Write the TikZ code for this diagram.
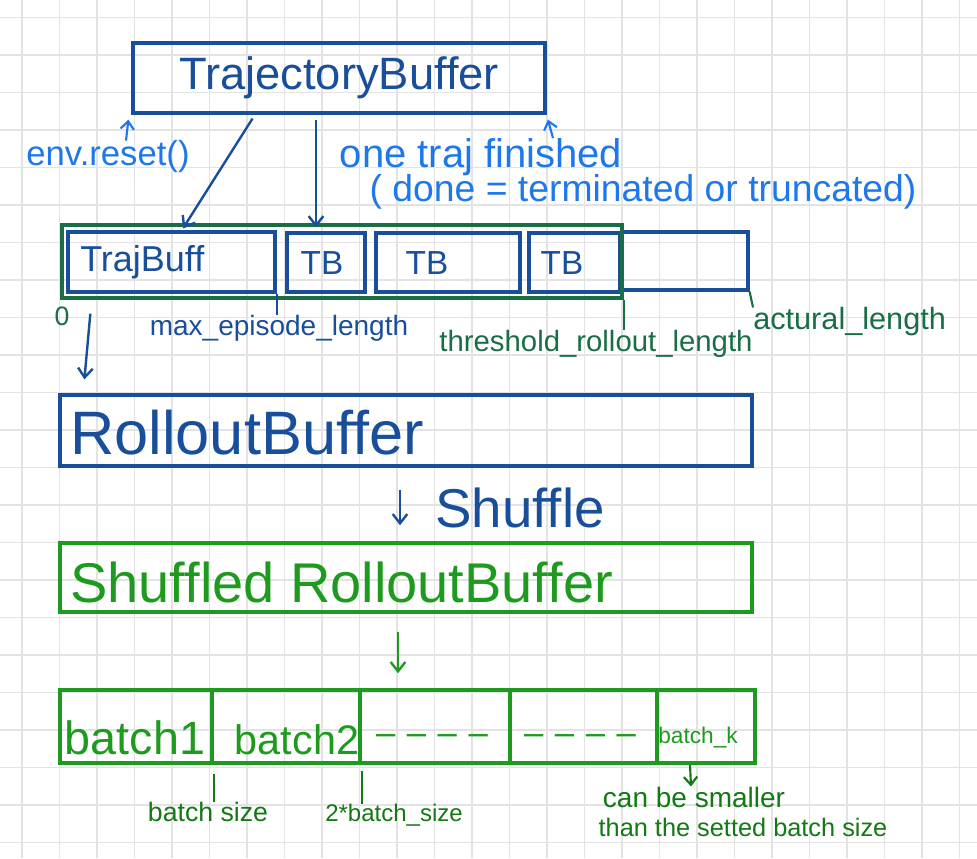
\documentclass[tikz,border=0pt]{standalone}
\usepackage{fontspec}
\setmainfont{Liberation Sans}
\usetikzlibrary{arrows.meta,calc}
\definecolor{blueD}{RGB}{25,78,155}
\definecolor{blueL}{RGB}{30,120,235}
\definecolor{greenD}{RGB}{25,110,70}
\definecolor{greenB}{RGB}{30,155,30}
\definecolor{greenT}{RGB}{20,120,20}
\newcommand{\fsz}[1]{\fontsize{#1}{#1}\selectfont}
\begin{document}
\begin{tikzpicture}[x=0.75pt,y=-0.75pt,
  gridline/.style={draw=black!11, line width=0.8pt},
  bbox/.style={draw=blueD, line width=2.4pt, inner sep=0pt, rectangle},
  gbox/.style={draw=greenB, line width=2.6pt, inner sep=0pt, rectangle},
  txt/.style={inner sep=0pt},
  arr/.style={line width=1.8pt, -{Straight Barb[length=7pt,width=11pt]}},
  sarr/.style={line width=1.6pt, -{Straight Barb[length=6pt,width=10pt]}},
  tick/.style={line width=1.6pt}]
\useasboundingbox (0,0) rectangle (977,858);
\fill[white] (0,0) rectangle (977,858);
% grid
\foreach \k in {0,...,25} {\draw[gridline] (22+37.5*\k,0) -- (22+37.5*\k,858);}
\foreach \k in {0,...,22} {\draw[gridline] (0,17.5+37.5*\k) -- (977,17.5+37.5*\k);}

% TrajectoryBuffer
\node[bbox, minimum width=309pt, minimum height=52.5pt, text=blueD, font=\fsz{34}] (tb) at (339,78) {TrajectoryBuffer};

% segment boxes
\node[bbox, minimum width=155.25pt, minimum height=45pt] (trajbuff) at (171.5,262) {};
\node[bbox, minimum width=58.5pt, minimum height=44.25pt] (tb1) at (326,262.5) {};
\node[bbox, minimum width=108pt, minimum height=44.25pt] (tb2) at (448,262.5) {};
\node[bbox, minimum width=68.25pt, minimum height=44.25pt] (tb3) at (574.5,262.5) {};
\node[bbox, minimum width=94.5pt, minimum height=43.5pt] (rest) at (685,261) {};
\node[draw=greenD, line width=2.5pt, inner sep=0pt, minimum width=420pt, minimum height=54.75pt] (outer) at (342,261.5) {};

\node[txt, text=blueD, font=\fsz{27}, anchor=west] (ltrajbuff) at (80,262) {TrajBuff};
\node[txt, text=blueD, font=\fsz{25}] (ltb1) at (322,263) {TB};
\node[txt, text=blueD, font=\fsz{25}] (ltb2) at (427,263) {TB};
\node[txt, text=blueD, font=\fsz{25}] (ltb3) at (562,263) {TB};

% light blue labels
\node[txt, text=blueL, font=\fsz{26}] (envreset) at (108,157) {env.reset()};
\node[txt, text=blueL, font=\fsz{30}] (onetraj) at (481,157) {one traj finished};
\node[txt, text=blueL, font=\fsz{28}] (done) at (643,192) {( done = terminated or truncated)};

% arrows from/to TrajectoryBuffer
\draw[sarr, blueL] ([xshift=13.5pt]envreset.north) -- ([xshift=-2.25pt,yshift=-3.75pt]tb.south west);
\draw[sarr, blueL] ([xshift=54pt]onetraj.north) -- ([xshift=1pt,yshift=-3.75pt]tb.south east);
\draw[arr, blueD, shorten <=3.5pt] ([xshift=-63pt]tb.south) -- ([xshift=8.6pt,yshift=1.5pt]trajbuff.north);
\draw[arr, blueD, shorten <=4pt] ([xshift=-17.25pt]tb.south) -- ([xshift=-7.5pt,yshift=3pt]tb1.north);

% labels under segments
\node[txt, text=greenD, font=\fsz{20}] (zero) at (62,316) {0};
\node[txt, text=blueD, font=\fsz{21}] (maxep) at (279,328) {max\_episode\_length};
\node[txt, text=greenD, font=\fsz{22}] (thresh) at (596,344) {threshold\_rollout\_length};
\node[txt, text=greenD, font=\fsz{23}, anchor=west] (actural) at (753,322) {actural\_length};
\draw[tick, blueD] (trajbuff.south east) -- (trajbuff.south east |- maxep.north);
\draw[tick, greenD] (outer.south east) -- (outer.south east |- thresh.north);
\draw[tick, greenD] (rest.south east) -- (actural.north west);

% RolloutBuffer
\node[bbox, minimum width=519pt, minimum height=53.25pt] (rollout) at (406,430.5) {};
\node[txt, text=blueD, font=\fsz{46}, anchor=west] (lrollout) at (70,433) {RolloutBuffer};
\draw[arr, blueD] ([xshift=22.5pt,yshift=-10.5pt]outer.south west) -- ([xshift=19.5pt,yshift=10.5pt]rollout.north west);

% Shuffled RolloutBuffer
\node[gbox, minimum width=519pt, minimum height=51.75pt] (shuffled) at (406,577.5) {};
\node[txt, text=greenB, font=\fsz{42}, anchor=west] (lshuffled) at (70,582) {Shuffled RolloutBuffer};
\draw[arr, blueD, shorten <=16.5pt, shorten >=12pt] ([xshift=-4.5pt]rollout.south) -- ([xshift=-4.5pt]shuffled.north);
\node[txt, text=blueD, font=\fsz{41}] (lshuffle) at (520,508) {Shuffle};

% batches
\node[gbox, minimum width=114pt, minimum height=54.75pt] (b1) at (136,726.5) {};
\node[gbox, minimum width=111pt, minimum height=54.75pt] (b2) at (286,726.5) {};
\node[gbox, minimum width=112.5pt, minimum height=54.75pt] (b3) at (435,726.5) {};
\node[gbox, minimum width=110.25pt, minimum height=54.75pt] (b4) at (583.5,726.5) {};
\node[gbox, minimum width=73.5pt, minimum height=54.75pt] (bk) at (706,726.5) {};
\draw[arr, greenB, shorten <=13.5pt, shorten >=11.25pt] ([xshift=-6pt]shuffled.south) -- ([xshift=-27.75pt]b3.north);

\node[txt, text=greenB, font=\fsz{35}] (lb1) at (135,738) {batch1};
\node[txt, text=greenB, font=\fsz{31}] (lb2) at (297,740) {batch2};
\node[txt, text=greenB, font=\fsz{26}] (ld1) at (432,740) {–\,\,–\,\,–\,\,–};
\node[txt, text=greenB, font=\fsz{26}] (ld2) at (580,740) {–\,\,–\,\,–\,\,–};
\node[txt, text=greenB, font=\fsz{17}] (lbk) at (698,738) {batch\_k};

% labels under batches
\node[txt, text=greenT, font=\fsz{20}] (bsize) at (208,812) {batch size};
\node[txt, text=greenT, font=\fsz{18}] (b2size) at (394,815) {2*batch\_size};
\node[txt, text=greenT, font=\fsz{21}] (canbe) at (694,797) {can be smaller};
\node[txt, text=greenT, font=\fsz{19}] (than) at (743,827) {than the setted batch size};
\draw[tick, greenT, shorten <=7pt] (b1.south east) -- (b1.south east |- bsize.north);
\draw[tick, greenT, shorten <=5pt] (b2.south east) -- (b2.south east |- b2size.north);
\draw[sarr, greenT] ([xshift=-12pt]bk.south) -- ([xshift=-2.25pt]canbe.north);
\end{tikzpicture}
\end{document}
